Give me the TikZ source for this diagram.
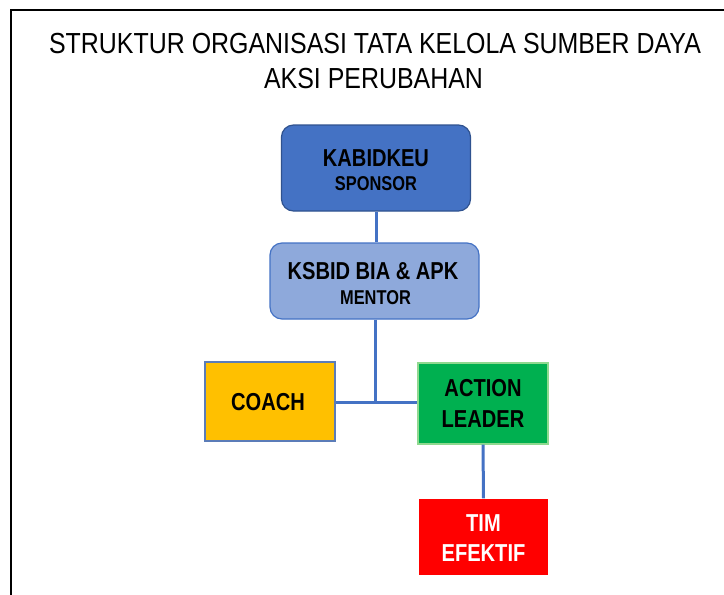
\documentclass[tikz,border=0pt]{standalone}
\usepackage{fontspec}
\setmainfont{Liberation Sans}
\newfontfamily\titlefont{Liberation Sans}[FakeStretch=0.86]
\newfontfamily\boxfont{Liberation Sans}[FakeStretch=0.82]
\definecolor{darkblue}{HTML}{2F528F}
\definecolor{midblue}{HTML}{4472C4}
\definecolor{lightblue}{HTML}{8EA9DB}
\definecolor{coachgold}{HTML}{FFC000}
\definecolor{leadgreen}{HTML}{00B050}
\definecolor{leadedge}{HTML}{8FD98F}
\definecolor{timred}{HTML}{FF0000}
\definecolor{coachedge}{HTML}{5B7CB8}
\tikzset{
  x=1pt, y=-1pt,
  box/.style={inner sep=0pt, line width=1.2pt},
  roundbox/.style={box, rounded corners=12pt},
  bigtxt/.style={inner sep=0pt, anchor=base, font=\boxfont\bfseries\fontsize{24.5}{24.5}\selectfont},
  smalltxt/.style={inner sep=0pt, anchor=base, font=\boxfont\bfseries\fontsize{20}{20}\selectfont},
  titletxt/.style={inner sep=0pt, anchor=base, font=\titlefont\fontsize{29}{29}\selectfont},
  link/.style={draw=midblue, line width=3pt}
}
\begin{document}
\begin{tikzpicture}
\useasboundingbox (0,0) rectangle (724,595);
% frame
\draw[line width=2pt] (11,595) -- (11,10) -- (724,10);
% title
\node[titletxt] (t1) at (375,53) {STRUKTUR ORGANISASI TATA KELOLA SUMBER DAYA};
\node[titletxt] (t2) at (373.5,88) {AKSI PERUBAHAN};
% boxes
\node[roundbox, draw=darkblue, fill=midblue, minimum width=189pt, minimum height=86pt] (kab) at (376,168) {};
\node[roundbox, draw=midblue, fill=lightblue, minimum width=209pt, minimum height=76pt] (ksb) at (374.5,281) {};
\node[box, draw=coachedge, fill=coachgold, minimum width=130pt, minimum height=79pt] (coach) at (270,401.5) {};
\node[box, draw=leadedge, fill=leadgreen, minimum width=130pt, minimum height=81pt] (lead) at (483,403.5) {};
\node[box, draw=none, fill=timred, minimum width=129pt, minimum height=76pt] (tim) at (483.5,537) {};
% texts
\node[bigtxt] (kabt) at (376,166) {KABIDKEU};
\node[smalltxt] (kabs) at (376,190.5) {SPONSOR};
\node[bigtxt] (ksbt) at (373,279) {KSBID BIA \& APK};
\node[smalltxt] (ksbs) at (375.5,304) {MENTOR};
\node[bigtxt] (coacht) at (268,410) {COACH};
\node[bigtxt] (leadt1) at (483,396) {ACTION};
\node[bigtxt] (leadt2) at (483,427) {LEADER};
\node[bigtxt, text=white] (timt1) at (483.5,531) {TIM};
\node[bigtxt, text=white] (timt2) at (483.5,561) {EFEKTIF};
% connectors
\coordinate (j) at (375,402);
\draw[link] (kab.south) -- (kab.south |- ksb.north);
\draw[link] (ksb.south -| j) -- (j);
\draw[link] (coach.east |- j) -- (lead.west |- j);
\draw[link] (lead.south) -- (tim.north);
\end{tikzpicture}
\end{document}
